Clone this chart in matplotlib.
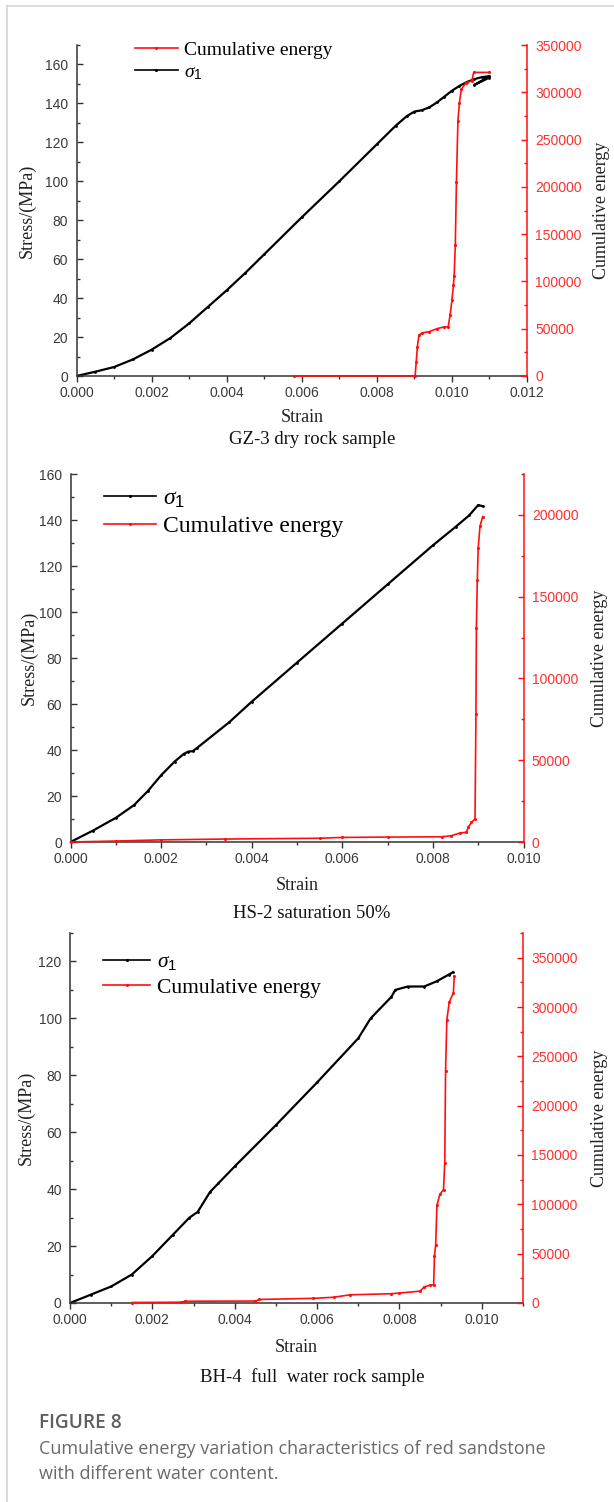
import matplotlib
matplotlib.use("Agg")
import matplotlib.pyplot as plt
from matplotlib.lines import Line2D
from matplotlib.ticker import MultipleLocator, FormatStrFormatter

plt.rcParams['mathtext.fontset'] = 'custom'
plt.rcParams['mathtext.it'] = 'Liberation Serif:italic'
plt.rcParams['mathtext.rm'] = 'Liberation Sans'

# ---- GZ-3 dry rock sample ----
gz_strain = [0, 0.0005, 0.001, 0.0015, 0.002, 0.0025, 0.003, 0.0035, 0.004, 0.0045,
             0.005, 0.006, 0.007, 0.008, 0.0085, 0.0088, 0.0090, 0.0092, 0.0094, 0.0096,
             0.0098, 0.0100, 0.0102, 0.0104, 0.0106, 0.0108, 0.0110, 0.0106, 0.0110]
gz_stress = [0, 2.2, 4.6, 8.5, 13.5, 19.5, 27, 35.5, 44, 53,
             62.5, 81.5, 100, 119, 128.5, 133.5, 135.8, 136.5, 138, 140.5,
             143.5, 146.5, 149, 151, 152.5, 153.5, 154, 149.5, 153.3]
gz_e_strain = [0.0058, 0.00902, 0.00905, 0.00908, 0.00912, 0.0092, 0.0094, 0.0096, 0.0098,
               0.0099, 0.00995, 0.0100, 0.01004, 0.01006, 0.01009, 0.01012, 0.01016, 0.0102,
               0.01025, 0.01037, 0.01053, 0.01058, 0.0110]
gz_energy = [0, 0, 15000, 31000, 43000, 45500, 47000, 50000, 52000,
             52000, 64000, 80000, 96000, 106000, 138000, 205000, 270000, 289000,
             303000, 310000, 312000, 321000, 321000]

# ---- HS-2 saturation 50% ----
hs_strain = [0, 0.0005, 0.001, 0.0014, 0.0017, 0.002, 0.0023, 0.0025, 0.0026, 0.0027,
             0.0028, 0.0035, 0.004, 0.005, 0.006, 0.007, 0.008, 0.0085, 0.0088, 0.009, 0.0091]
hs_stress = [0, 5, 10.5, 16, 22, 29, 35, 38.3, 39.3, 39.5,
             41, 52, 61, 78, 95, 112, 129, 137, 142, 146.5, 146]
hs_e_strain = [0, 0.001, 0.002, 0.0034, 0.0055, 0.006, 0.007, 0.0082, 0.0084, 0.0086,
               0.00874, 0.00878, 0.00885, 0.00893, 0.00895, 0.00896, 0.00898, 0.0090,
               0.00904, 0.0091]
hs_energy = [0, 600, 1300, 1800, 2300, 2800, 3000, 3200, 3800, 5500,
             6000, 9000, 12000, 14000, 78000, 131000, 160000, 180000,
             193000, 199000]

# ---- BH-4 full water rock sample ----
bh_strain = [0, 0.0005, 0.001, 0.0015, 0.002, 0.0025, 0.0029, 0.0031, 0.0034, 0.0036,
             0.004, 0.005, 0.006, 0.007, 0.0073, 0.0078, 0.0079, 0.0082, 0.0086, 0.0089,
             0.0092, 0.0093]
bh_stress = [0, 2.9, 5.8, 10, 16.5, 24, 30, 32, 39, 42,
             48, 62.5, 77.5, 93, 100, 107.5, 110, 111.2, 111.2, 113,
             115.4, 116.2]
bh_e_strain = [0.0015, 0.0027, 0.0028, 0.0045, 0.0046, 0.0059, 0.0064, 0.0068, 0.0078,
               0.0080, 0.0085, 0.0086, 0.00874, 0.00883, 0.00885, 0.00888, 0.00891,
               0.00898, 0.00907, 0.0091, 0.00912, 0.00915, 0.00921, 0.00931, 0.00933]
bh_energy = [500, 800, 1800, 2000, 3600, 4700, 5800, 8300, 9400,
             10100, 12000, 16300, 18100, 18500, 48000, 59000, 99000,
             110000, 115000, 142000, 235000, 287000, 305000, 314500, 331000]

W, H = 614, 1502
RED = '#ff0f0f'
DARK = '#333333'
SERIF = 'Liberation Serif'
SANS = 'Liberation Sans'

fig = plt.figure(figsize=(W / 100, H / 100), dpi=100)


def px_rect(l, t, r, b):
    return [l / W, 1 - b / H, (r - l) / W, (b - t) / H]


def panel(rect, strain, stress, e_strain, energy, xmax, ymax, emax,
          order, leg_xy, leg_fs, title, title_y, xlab_y, ylab_x, rlab_x):
    ax = fig.add_axes(px_rect(*rect))
    ax2 = ax.twinx()
    ax.plot(strain, stress, color='black', lw=1.6, marker='.', ms=2)
    ax2.plot(e_strain, energy, color=RED, lw=1.2, marker='.', ms=2.5, clip_on=False, zorder=5)
    ax.set_xlim(0, xmax)
    ax.set_ylim(0, ymax)
    ax2.set_ylim(0, emax)
    ax.xaxis.set_major_locator(MultipleLocator(0.002))
    ax.xaxis.set_minor_locator(MultipleLocator(0.001))
    ax.xaxis.set_major_formatter(FormatStrFormatter('%.3f'))
    ax.yaxis.set_major_locator(MultipleLocator(20))
    ax.yaxis.set_minor_locator(MultipleLocator(10))
    ax2.yaxis.set_major_locator(MultipleLocator(50000))
    ax2.yaxis.set_minor_locator(MultipleLocator(25000))
    ax2.yaxis.set_major_formatter(FormatStrFormatter('%d'))
    for a in (ax, ax2):
        a.spines['top'].set_visible(False)
        a.set_facecolor('none')
    ax.spines['right'].set_visible(False)
    ax2.spines['left'].set_visible(False)
    ax2.spines['bottom'].set_visible(False)
    for s in ('left', 'bottom'):
        ax.spines[s].set_color(DARK)
        ax.spines[s].set_linewidth(1.1)
    ax2.spines['right'].set_color(RED)
    ax2.spines['right'].set_linewidth(1.1)
    ax.tick_params(axis='x', which='major', direction='out', length=4, width=1,
                   color=DARK, labelsize=10, labelcolor='#3a3a3a', pad=3)
    ax.tick_params(axis='x', which='minor', direction='out', length=2.5, width=1, color=DARK)
    ax.tick_params(axis='y', which='major', direction='in', length=4, width=1,
                   color=DARK, labelsize=10, labelcolor='#3a3a3a', pad=6)
    ax.tick_params(axis='y', which='minor', direction='in', length=2.5, width=1, color=DARK)
    ax2.tick_params(axis='y', which='major', direction='in', length=4, width=1,
                    color=RED, labelsize=10, labelcolor='#ff3030', pad=6)
    ax2.tick_params(axis='y', which='minor', direction='in', length=2.5, width=1, color=RED)
    for lab in ax.get_xticklabels() + ax.get_yticklabels() + ax2.get_yticklabels():
        lab.set_fontfamily(SANS)

    l, t, r, b = rect
    fig.text((l + r) / 2 / W, 1 - xlab_y / H, 'Strain', family=SERIF, fontsize=13,
             ha='center', va='center', color='#222222')
    fig.text(312 / W, 1 - title_y / H, title, family=SERIF, fontsize=13.5,
             ha='center', va='center', color='#111111')
    fig.text(ylab_x / W, 1 - (t + b) / 2 / H, 'Stress/(MPa)', family=SERIF, fontsize=13,
             rotation=90, ha='center', va='center', color='#222222')
    fig.text(rlab_x / W, 1 - (t + b) / 2 / H, 'Cumulative energy', family=SERIF,
             fontsize=13, rotation=90, ha='center', va='center', color='#222222')

    h_s = Line2D([], [], color='black', lw=1.2, marker='.', ms=2.5, markevery=[1])
    h_e = Line2D([], [], color=RED, lw=1.2, marker='.', ms=2.5, markevery=[1])
    items = {'s': (h_s, r'$\sigma_1$'), 'e': (h_e, 'Cumulative energy')}
    hs = [items[k][0] for k in order]
    ls = [items[k][1] for k in order]
    ax2.legend(hs, ls, loc='upper left', bbox_to_anchor=(leg_xy[0] / W, 1 - leg_xy[1] / H),
               bbox_transform=fig.transFigure, frameon=False, borderpad=0,
               borderaxespad=0, handlelength=2.2, handletextpad=0.3, labelspacing=0.25,
               prop={'family': SERIF, 'size': leg_fs})
    return ax, ax2


panel((76.5, 45, 527, 376), gz_strain, gz_stress, gz_e_strain, gz_energy,
      0.012, 170, 350000, 'es', (135, 41), 14, 'GZ-3 dry rock sample', 440, 418, 27, 601)
panel((70.5, 474, 523.5, 842), hs_strain, hs_stress, hs_e_strain, hs_energy,
      0.010, 160, 225000, 'se', (104, 488), 17, 'HS-2 saturation 50%', 913, 886, 29, 599)
panel((70, 933, 523, 1303), bh_strain, bh_stress, bh_e_strain, bh_energy,
      0.011, 130, 375000, 'se', (103, 952), 15.5, 'BH-4  full  water rock sample', 1377, 1348, 26, 599)

# caption
fig.text(39 / W, 1 - 1423 / H, 'FIGURE 8', family='Open Sans', fontsize=13.8,
         fontweight='semibold', color='#5f5f5f', ha='left', va='center')
fig.text(39 / W, 1 - 1449 / H, 'Cumulative energy variation characteristics of red sandstone',
         family='Open Sans', fontsize=13, color='#6a6a6a', ha='left', va='center')
fig.text(39 / W, 1 - 1474 / H, 'with different water content.',
         family='Open Sans', fontsize=13, color='#6a6a6a', ha='left', va='center')

# card border
fig.add_artist(Line2D([7 / W, 1], [1 - 5.5 / H, 1 - 5.5 / H], color='#d6d6d6', lw=1.2,
                      transform=fig.transFigure))
fig.add_artist(Line2D([7 / W, 7 / W], [0, 1 - 5.5 / H], color='#d6d6d6', lw=1.2,
                      transform=fig.transFigure))

fig.savefig('out.png', dpi=100)
